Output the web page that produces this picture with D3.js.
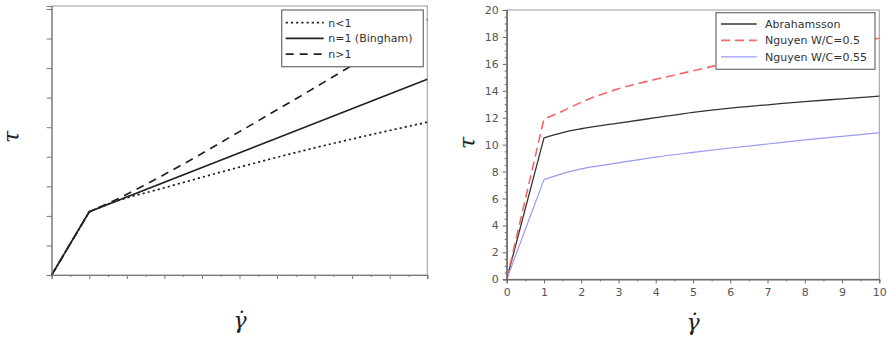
<!DOCTYPE html>
<html>
<head>
<meta charset="utf-8">
<script src="https://cdn.jsdelivr.net/npm/d3@7"></script>
<style>
  body { margin: 0; background: #fff; }
  text { font-family: "DejaVu Sans", sans-serif; }
</style>
</head>
<body>
<svg id="chart" width="888" height="337"></svg>
<script>
// ---- left panel: generic flow curves (no units) ----
const flowNames = ['n<1', 'n=1 (Bingham)', 'n>1'];
const thinX = [0, 1, 1.5, 3, 5, 7, 10];
const thinY = [0, 2.14, 2.4, 2.95, 3.65, 4.3, 5.17];
const binghamX = [0, 1, 10];
const binghamY = [0, 2.14, 6.62];
const thickX = [0, 1, 1.5, 3, 5, 7.8, 10];
const thickY = [0, 2.14, 2.42, 3.4, 4.85, 6.94, 8.64];

// ---- right panel: measured / fitted curves ----
const modelNames = ['Abrahamsson', 'Nguyen W/C=0.5', 'Nguyen W/C=0.55'];
const shearRate = [0, 1, 1.5, 2, 3, 4, 5, 6, 7, 8, 9, 10];
const abrahamsson = [0, 10.5, 10.9, 11.18, 11.6, 12.0, 12.4, 12.72, 12.96, 13.2, 13.4, 13.6];
const nguyen050 = [0, 11.9, 12.5, 13.15, 14.15, 14.85, 15.48, 16.1, 16.6, 17.1, 17.5, 17.9];
const nguyen055 = [0, 7.4, 7.85, 8.2, 8.65, 9.08, 9.42, 9.75, 10.05, 10.35, 10.62, 10.88];
const rightTicksY = [0, 2, 4, 6, 8, 10, 12, 14, 16, 18, 20];
const rightTicksX = [0, 1, 2, 3, 4, 5, 6, 7, 8, 9, 10];

const svg = d3.select('#chart');

function zip(xs, ys) {
    return xs.map((x, i) => [x, ys[i]]);
}

// straight rise from the origin to the yield point, then a smooth curve
function kneePath(pts, xScale, yScale) {
    const smooth = d3.line()
        .x(d => xScale(d[0]))
        .y(d => yScale(d[1]))
        .curve(d3.curveMonotoneX);
    return `M${xScale(pts[0][0])},${yScale(pts[0][1])}` + smooth(pts.slice(1)).replace(/^M/, 'L');
}

function drawLabels(g, tauPos, gammaPos) {
    g.append('text')
        .attr('transform', `translate(${tauPos[0]},${tauPos[1]}) rotate(-90)`)
        .attr('text-anchor', 'middle')
        .style('font-family', '"DejaVu Serif", serif')
        .style('font-style', 'italic')
        .style('font-size', '22px')
        .attr('fill', '#222')
        .text('τ');
    g.append('text')
        .attr('x', gammaPos[0])
        .attr('y', gammaPos[1])
        .attr('text-anchor', 'middle')
        .style('font-family', '"DejaVu Serif", serif')
        .style('font-style', 'italic')
        .style('font-size', '22px')
        .attr('fill', '#222')
        .text('γ\u0307');
}

function drawLegend(g, box, names, styles) {
    const lg = g.append('g');
    lg.append('rect')
        .attr('x', box.x).attr('y', box.y)
        .attr('width', box.w).attr('height', box.h)
        .attr('fill', '#fff')
        .attr('stroke', '#777')
        .attr('stroke-width', 1.3);
    names.forEach((name, i) => {
        const y = box.y + box.first + i * box.step;
        lg.append('line')
            .attr('x1', box.x + box.lineX0).attr('x2', box.x + box.lineX1)
            .attr('y1', y).attr('y2', y)
            .attr('stroke', styles[i].color)
            .attr('stroke-width', styles[i].width)
            .attr('stroke-dasharray', styles[i].dash);
        lg.append('text')
            .attr('x', box.x + box.textX)
            .attr('y', y + 4)
            .style('font-size', '11px')
            .attr('fill', '#333')
            .text(name);
    });
}

// ---------------- left panel ----------------
{
    const x0 = 51.7, x1 = 427.3, y0 = 275, y1 = 6;
    const xScale = d3.scaleLinear().domain([0, 10]).range([x0, x1]);
    const yScale = d3.scaleLinear().domain([0, 9.1]).range([y0, y1]);
    const g = svg.append('g');

    const styles = [
        { color: '#222', width: 1.7, dash: '2.2,3' },
        { color: '#222', width: 1.7, dash: null },
        { color: '#222', width: 1.7, dash: '8,6' }
    ];
    const series = [zip(thinX, thinY), zip(binghamX, binghamY), zip(thickX, thickY)];

    // frame
    g.append('rect')
        .attr('x', x0).attr('y', y1)
        .attr('width', x1 - x0).attr('height', y0 - y1)
        .attr('fill', 'none').attr('stroke', '#999').attr('stroke-width', 1);

    series.forEach((s, i) => {
        g.append('path')
            .attr('d', kneePath(s, xScale, yScale))
            .attr('fill', 'none')
            .attr('stroke', styles[i].color)
            .attr('stroke-width', styles[i].width)
            .attr('stroke-dasharray', styles[i].dash);
    });

    const xAxis = g.append('g').attr('transform', `translate(0,${y0})`)
        .call(d3.axisBottom(xScale).ticks(10).tickSize(4).tickFormat(''));
    const xMinor = g.append('g').attr('transform', `translate(0,${y0})`)
        .call(d3.axisBottom(xScale).tickValues(d3.range(0.5, 10, 1)).tickSize(2).tickFormat(''));
    const yAxis = g.append('g').attr('transform', `translate(${x0},0)`)
        .call(d3.axisLeft(yScale).tickValues(d3.range(0, 10, 1)).tickSize(5).tickFormat(''));
    [xAxis, xMinor, yAxis].forEach(a => {
        a.select('.domain').attr('stroke', '#777');
        a.selectAll('.tick line').attr('stroke', '#777');
    });

    drawLegend(g, { x: 281.7, y: 10, w: 141.6, h: 56.7, first: 12.7, step: 15.7, lineX0: 4, lineX1: 42, textX: 46.5 },
        flowNames, styles);

    drawLabels(g, [19, 137], [240, 328]);
}

// ---------------- right panel ----------------
{
    const x0 = 506.7, x1 = 879.3, y0 = 279.3, y1 = 10;
    const xScale = d3.scaleLinear().domain([0, 10]).range([x0, x1]);
    const yScale = d3.scaleLinear().domain([0, 20]).range([y0, y1]);
    const g = svg.append('g');

    const styles = [
        { color: '#333', width: 1.3, dash: null },
        { color: '#f06a6a', width: 1.6, dash: '9,5' },
        { color: '#9a9af0', width: 1.2, dash: null }
    ];
    const series = [abrahamsson, nguyen050, nguyen055].map(v => zip(shearRate, v));

    g.append('rect')
        .attr('x', x0).attr('y', y1)
        .attr('width', x1 - x0).attr('height', y0 - y1)
        .attr('fill', 'none').attr('stroke', '#999').attr('stroke-width', 1);

    series.forEach((s, i) => {
        g.append('path')
            .attr('d', kneePath(s, xScale, yScale))
            .attr('fill', 'none')
            .attr('stroke', styles[i].color)
            .attr('stroke-width', styles[i].width)
            .attr('stroke-dasharray', styles[i].dash);
    });

    const xAxis = g.append('g').attr('transform', `translate(0,${y0})`)
        .call(d3.axisBottom(xScale).tickValues(rightTicksX).tickSize(4).tickPadding(5));
    const xMinor = g.append('g').attr('transform', `translate(0,${y0})`)
        .call(d3.axisBottom(xScale).tickValues(d3.range(0.5, 10, 1)).tickSize(2).tickFormat(''));
    const yAxis = g.append('g').attr('transform', `translate(${x0},0)`)
        .call(d3.axisLeft(yScale).tickValues(rightTicksY).tickSize(4).tickPadding(4));
    const yMinor = g.append('g').attr('transform', `translate(${x0},0)`)
        .call(d3.axisLeft(yScale).tickValues(d3.range(0.5, 20, 0.5).filter(v => v % 2 !== 0)).tickSize(2).tickFormat(''));
    [xAxis, xMinor, yAxis, yMinor].forEach(a => {
        a.select('.domain').attr('stroke', '#666');
        a.selectAll('.tick line').attr('stroke', '#666');
        a.selectAll('.tick text')
            .style('font-family', '"DejaVu Sans", sans-serif')
            .style('font-size', '11px')
            .attr('fill', '#555');
    });

    drawLegend(g, { x: 716, y: 12.7, w: 159, h: 56.6, first: 11.3, step: 16.4, lineX0: 5, lineX1: 40.7, textX: 49 },
        modelNames, styles);

    drawLabels(g, [475, 143], [693, 330]);
}
</script>
</body>
</html>
